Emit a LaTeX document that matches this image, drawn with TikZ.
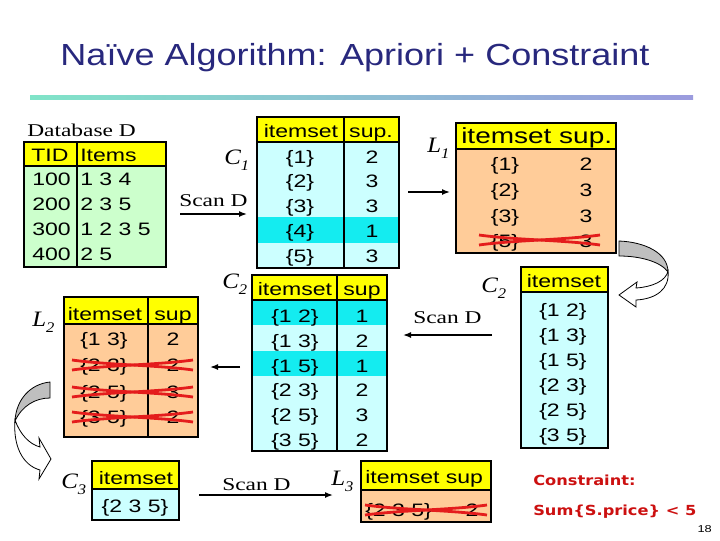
\documentclass[tikz,border=0pt]{standalone}
\usepackage{fontspec}
\setmainfont{Liberation Serif}
\usetikzlibrary{arrows.meta}
\newfontfamily\tabf[FakeStretch=1.28]{Liberation Sans}
\newfontfamily\titf[FakeStretch=1.18]{Liberation Sans}
\newfontfamily\labf[FakeStretch=1.3]{Liberation Serif}
\newfontfamily\ilabf[FakeStretch=1.13]{Liberation Serif}
\newfontfamily\conf[FakeStretch=1.17]{DejaVu Sans}
\definecolor{titc}{RGB}{40,40,125}
\definecolor{lineL}{RGB}{128,228,200}
\definecolor{lineR}{RGB}{155,155,222}
\definecolor{hdrc}{RGB}{255,255,0}
\definecolor{dbc}{RGB}{204,255,204}
\definecolor{cc}{RGB}{204,255,255}
\definecolor{hic}{RGB}{20,236,240}
\definecolor{pc}{RGB}{255,204,153}
\definecolor{strc}{RGB}{228,28,28}
\definecolor{conc}{RGB}{204,16,16}
\newcommand\lsub[1]{\raisebox{-0.3em}{\fontsize{11}{11}\selectfont #1}}
\newcommand\strikerow[3]{%
  \draw[strk] (#1,{#3-5}) .. controls ({#1+0.3*(#2-#1)},{#3}) and ({#2-0.3*(#2-#1)},{#3}) .. (#2,{#3+5});
  \draw[strk] (#1,{#3+5}) .. controls ({#1+0.3*(#2-#1)},{#3}) and ({#2-0.3*(#2-#1)},{#3}) .. (#2,{#3-5});}
\begin{document}
\begin{tikzpicture}[x=0.75pt,y=-0.75pt,
  tab/.style={font={\fontsize{13.5}{14}\tabf}, inner sep=0pt, anchor=base},
  tabw/.style={tab, anchor=base west},
  lab/.style={font={\fontsize{13.5}{14}\labf}, inner sep=0pt, anchor=base west},
  ilab/.style={font={\fontsize{16.5}{17}\ilabf\itshape}, inner sep=0pt, anchor=base west},
  tl/.style={draw=black, line width=1.2pt},
  arr/.style={draw=black, line width=1.1pt, -{Latex[length=6pt,width=4.5pt]}},
  strk/.style={draw=strc, line width=2.1pt},
  curvg/.style={draw=black, line width=0.6pt, fill=black!25},
  curvw/.style={draw=black, line width=0.6pt, fill=white},
  cons/.style={font={\fontsize{10.4}{12}\conf\bfseries}, text=conc, inner sep=0pt, anchor=base west}]
\useasboundingbox (0,0) rectangle (720,540);

% title
\node[font={\fontsize{22.9}{24}\titf}, text=titc, inner sep=0pt, anchor=base] (title) at (355,65) {Naïve Algorithm: Apriori + Constraint};
\shade[left color=lineL, right color=lineR] (30,95) rectangle (693,99);

% Database D
\node[lab] (dbl) at (27,136) {Database D};
\fill[hdrc] (24,142) rectangle (166,166);
\fill[dbc] (24,166) rectangle (166,267);
\draw[tl] (24,142) rectangle (166,267);
\draw[tl] (24,166) -- (166,166);
\draw[tl] (77,142) -- (77,267);
\node[tabw] (dbh1) at (31,161) {TID};
\node[tabw] (dbh2) at (80,161) {Items};
\node[tabw] (db1a) at (32,185) {100}; \node[tabw] (db1b) at (80,185) {1 3 4};
\node[tabw] (db2a) at (32,210) {200}; \node[tabw] (db2b) at (80,210) {2 3 5};
\node[tabw] (db3a) at (32,235) {300}; \node[tabw] (db3b) at (80,235) {1 2 3 5};
\node[tabw] (db4a) at (32,260) {400}; \node[tabw] (db4b) at (80,260) {2 5};

% Scan D 1
\node[lab] (scan1) at (179,206) {Scan D};
\coordinate (s1a) at (180,214); \coordinate (s1b) at (247,214);
\draw[arr] (s1a) -- (s1b);

% C1
\node[ilab] (c1l) at (224,164) {C\lsub{1}};
\fill[hdrc] (257,117) rectangle (399,142);
\fill[cc] (257,142) rectangle (399,268);
\fill[hic] (257,217) rectangle (399,243);
\draw[tl] (257,117) rectangle (399,268);
\draw[tl] (257,142) -- (399,142);
\draw[tl] (344,117) -- (344,268);
\node[tab] (c1h1) at (301,137) {itemset};
\node[tab] (c1h2) at (371,137) {sup.};
\node[tab] (c1r1a) at (300,163) {\{1\}}; \node[tab] (c1r1b) at (372,163) {2};
\node[tab] (c1r2a) at (300,187) {\{2\}}; \node[tab] (c1r2b) at (372,187) {3};
\node[tab] (c1r3a) at (300,212) {\{3\}}; \node[tab] (c1r3b) at (372,212) {3};
\node[tab] (c1r4a) at (300,237) {\{4\}}; \node[tab] (c1r4b) at (372,237) {1};
\node[tab] (c1r5a) at (300,262) {\{5\}}; \node[tab] (c1r5b) at (372,262) {3};

% C1 -> L1
\coordinate (a1a) at (408,192); \coordinate (a1b) at (450,192);
\draw[arr] (a1a) -- (a1b);

% L1
\node[ilab] (l1l) at (427,152) {L\lsub{1}};
\fill[hdrc] (456,123) rectangle (616,149);
\fill[pc] (456,149) rectangle (616,253);
\draw[tl] (456,123) rectangle (616,253);
\draw[tl] (456,149) -- (616,149);
\node[font={\fontsize{16.4}{17}\tabf}, inner sep=0pt, anchor=base west] (l1h) at (461,143) {itemset sup.};
\node[tab] (l1r1a) at (505,170) {\{1\}}; \node[tab] (l1r1b) at (586,170) {2};
\node[tab] (l1r2a) at (505,196) {\{2\}}; \node[tab] (l1r2b) at (586,196) {3};
\node[tab] (l1r3a) at (505,222) {\{3\}}; \node[tab] (l1r3b) at (586,222) {3};
\node[tab] (l1r4a) at (505,247) {\{5\}}; \node[tab] (l1r4b) at (586,247) {3};
\strikerow{479}{600}{240}

% curved arrow right (L1 -> C2)
\draw[curvg] (619,241) .. controls (645,242) and (668,253) .. (668,272)
  .. controls (661,262) and (641,256) .. (619,256) -- cycle;
\draw[curvw] (668,271) .. controls (666,281) and (652,287) .. (636,288)
  -- (637,282) -- (619,295) -- (636,307) -- (636,300)
  .. controls (656,299) and (670,289) .. (668,271) -- cycle;

% C2 right
\node[ilab] (c2rl) at (481,292) {C\lsub{2}};
\fill[hdrc] (521,267) rectangle (608,292);
\fill[cc] (521,292) rectangle (608,448);
\draw[tl] (521,267) rectangle (608,448);
\draw[tl] (521,292) -- (608,292);
\node[tab] (c2rh) at (564,287) {itemset};
\node[tab] (c2r1) at (563,316) {\{1 2\}};
\node[tab] (c2r2) at (563,341) {\{1 3\}};
\node[tab] (c2r3) at (563,366) {\{1 5\}};
\node[tab] (c2r4) at (563,391) {\{2 3\}};
\node[tab] (c2r5) at (563,416) {\{2 5\}};
\node[tab] (c2r6) at (563,441) {\{3 5\}};

% Scan D 2
\node[lab] (scan2) at (413,323) {Scan D};
\coordinate (s2a) at (492,335); \coordinate (s2b) at (403,335);
\draw[arr] (s2a) -- (s2b);

% C2 middle
\node[ilab] (c2ml) at (222,288) {C\lsub{2}};
\fill[hdrc] (252,275) rectangle (387,300);
\fill[cc] (252,300) rectangle (387,451);
\fill[hic] (252,300) rectangle (387,325);
\fill[hic] (252,351) rectangle (387,376);
\draw[tl] (252,275) rectangle (387,451);
\draw[tl] (252,300) -- (387,300);
\draw[tl] (337,275) -- (337,451);
\node[tab] (c2mh1) at (295,295) {itemset};
\node[tab] (c2mh2) at (362,295) {sup};
\node[tab] (c2m1a) at (295,322) {\{1 2\}}; \node[tab] (c2m1b) at (362,322) {1};
\node[tab] (c2m2a) at (295,347) {\{1 3\}}; \node[tab] (c2m2b) at (362,347) {2};
\node[tab] (c2m3a) at (295,372) {\{1 5\}}; \node[tab] (c2m3b) at (362,372) {1};
\node[tab] (c2m4a) at (295,396) {\{2 3\}}; \node[tab] (c2m4b) at (362,396) {2};
\node[tab] (c2m5a) at (295,421) {\{2 5\}}; \node[tab] (c2m5b) at (362,421) {3};
\node[tab] (c2m6a) at (295,446) {\{3 5\}}; \node[tab] (c2m6b) at (362,446) {2};

% C2 -> L2
\coordinate (a2a) at (240,367); \coordinate (a2b) at (210,367);
\draw[arr] (a2a) -- (a2b);

% L2
\node[ilab] (l2l) at (32,326) {L\lsub{2}};
\fill[hdrc] (64,297) rectangle (198,324);
\fill[pc] (64,324) rectangle (198,437);
\draw[tl] (64,297) rectangle (198,437);
\draw[tl] (64,324) -- (198,324);
\draw[tl] (148,297) -- (148,437);
\node[tab] (l2h1) at (105,320) {itemset};
\node[tab] (l2h2) at (173,320) {sup};
\node[tab] (l2r1a) at (104,345) {\{1 3\}}; \node[tab] (l2r1b) at (173,345) {2};
\node[tab] (l2r2a) at (104,371) {\{2 3\}}; \node[tab] (l2r2b) at (173,371) {2};
\node[tab] (l2r3a) at (104,398) {\{2 5\}}; \node[tab] (l2r3b) at (173,398) {3};
\node[tab] (l2r4a) at (104,423) {\{3 5\}}; \node[tab] (l2r4b) at (173,423) {2};
\strikerow{72}{193}{365}
\strikerow{72}{193}{392}
\strikerow{72}{193}{417}

% curved arrow left (L2 -> C3)
\draw[curvg] (50,382) .. controls (30,384) and (16,400) .. (15,421)
  .. controls (22,406) and (35,398) .. (50,398) -- cycle;
\draw[curvw] (15,420) .. controls (20,434) and (29,444) .. (40,447)
  -- (39,438) -- (51,459) -- (39,479) -- (40,470)
  .. controls (22,465) and (13,445) .. (15,420) -- cycle;

% C3
\node[ilab] (c3l) at (61,488) {C\lsub{3}};
\fill[hdrc] (92,461) rectangle (179,489);
\fill[cc] (92,489) rectangle (179,520);
\draw[tl] (92,461) rectangle (179,520);
\draw[tl] (92,489) -- (179,489);
\node[tab] (c3h) at (136,484) {itemset};
\node[tab] (c3r) at (135,512) {\{2 3 5\}};

% Scan D 3
\node[lab] (scan3) at (222,490) {Scan D};
\coordinate (s3a) at (199,495); \coordinate (s3b) at (333,495);
\draw[arr] (s3a) -- (s3b);

% L3
\node[ilab] (l3l) at (331,485) {L\lsub{3}};
\fill[hdrc] (361,461) rectangle (491,490);
\fill[pc] (361,490) rectangle (491,522);
\draw[tl] (361,461) rectangle (491,522);
\draw[tl] (361,490) -- (491,490);
\node[tabw] (l3h) at (365,483) {itemset sup};
\node[tabw] (l3ra) at (365,516) {\{2 3 5\}};
\node[tab] (l3rb) at (472,516) {2};
\strikerow{365}{487}{510}

% constraint
\node[cons] (con1) at (533,485) {Constraint:};
\node[cons] (con2) at (533,515) {Sum\{S.price\} < 5};
\node[font={\fontsize{7.5}{8}\tabf}, inner sep=0pt, anchor=base east] (pg) at (712,532) {18};
\end{tikzpicture}
\end{document}
